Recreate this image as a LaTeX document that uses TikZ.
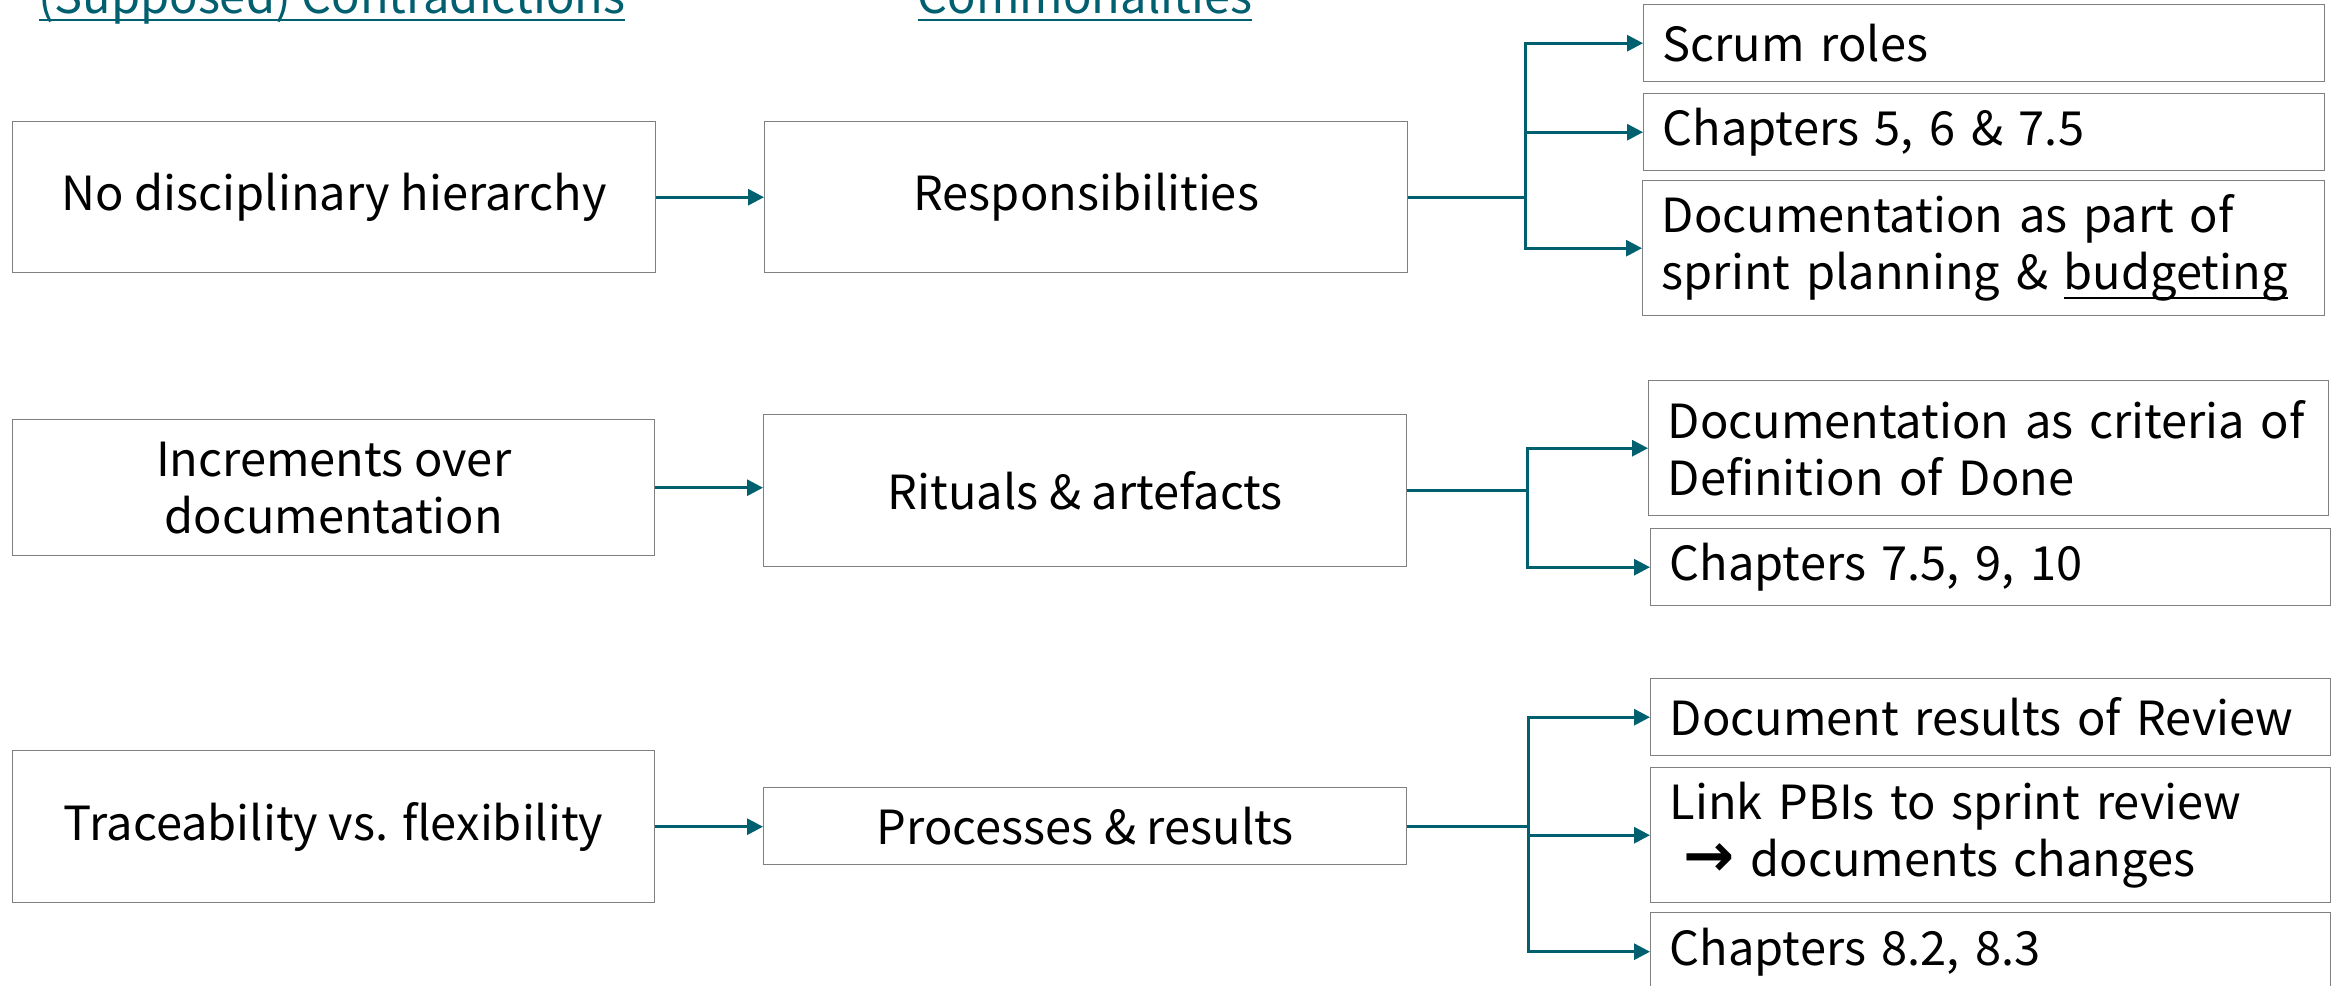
\documentclass[tikz,border=0pt]{standalone}
\usepackage{fontspec}
\setmainfont{Noto Sans CJK JP}
\newfontfamily\arrfont{DejaVu Sans}
\usetikzlibrary{arrows.meta}
\definecolor{teal2}{RGB}{0,96,112}
\definecolor{boxgray}{RGB}{128,128,128}
\newcommand\myul[1]{\setbox0\hbox{#1}\rlap{\rule[-9pt]{\wd0}{1.6pt}}\box0}
\newcommand\hdrul[1]{\setbox0\hbox{#1}\rlap{\rule[-8pt]{\wd0}{2.5pt}}\box0}
\begin{document}
\begin{tikzpicture}[x=1pt,y=-1pt,
  box/.style={draw=boxgray, line width=1.4pt, inner sep=0pt, anchor=north west,
    font=\fontsize{47}{57}\selectfont},
  cbox/.style={box, align=center},
  rbox/.style={box, align=left, inner xsep=19pt},
  hdr/.style={text=teal2, inner sep=0pt, anchor=base, font=\fontsize{47}{57}\selectfont},
  conn/.style={draw=teal2, line width=3pt},
  arr/.style={conn, -{Triangle[length=16pt,width=16pt]}}]
\clip (0,0) rectangle (2339,985);
\fill[white] (0,0) rectangle (2339,985);

% headers
\node[hdr] (h1) at (332,13) {\hdrul{(Supposed) Contradictions}};
\node[hdr] (h2) at (1085,13) {\hdrul{Commonalities}};

% left column
\node[cbox, minimum width=643pt, minimum height=151pt] (L1) at (12,121) {No disciplinary hierarchy};
\node[cbox, minimum width=642pt, minimum height=136pt] (L2) at (12,419) {Increments over\\documentation};
\node[cbox, minimum width=642pt, minimum height=152pt] (L3) at (12,750) {Traceability vs. flexibility};

% middle column
\node[cbox, minimum width=643pt, minimum height=151pt] (M1) at (764,121) {Responsibilities};
\node[cbox, minimum width=643pt, minimum height=152pt] (M2) at (763,414) {Rituals \& artefacts};
\node[cbox, minimum width=643pt, minimum height=77pt] (M3) at (763,787) {Processes \& results};

% right column
\node[rbox, text width=643pt, minimum height=77pt] (R1) at (1643,4) {Scrum roles};
\node[rbox, text width=643pt, minimum height=77pt] (R2) at (1643,93) {Chapters 5, 6 \& 7.5};
\node[rbox, text width=644pt, minimum height=135pt] (R3) at (1642,180) {Documentation as part of\\sprint planning \& \myul{budgeting}};
\node[rbox, text width=642pt, minimum height=135pt] (R4) at (1648,380) {Documentation as criteria of\\Definition of Done};
\node[rbox, text width=642pt, minimum height=77pt] (R5) at (1650,528) {Chapters 7.5, 9, 10};
\node[rbox, text width=642pt, minimum height=77pt] (R6) at (1650,678) {Document results of Review};
\node[rbox, text width=642pt, minimum height=135pt] (R7) at (1650,767) {Link PBIs to sprint review\\\hspace*{0.3em}\scalebox{1.3}{\arrfont\bfseries →} documents changes};
\node[rbox, text width=642pt, minimum height=78pt] (R8) at (1650,912) {Chapters 8.2, 8.3};

% left -> middle
\draw[arr] (L1.east) -- (L1.east -| M1.west);
\draw[arr] (L2.east) -- (L2.east -| M2.west);
\draw[arr] (L3.east) -- (L3.east -| M3.west);

% junctions
\coordinate (j1) at (1525,0 |- M1.east);
\coordinate (j2) at (1527,0 |- M2.east);
\coordinate (j3) at (1528,0 |- M3.east);
\draw[conn] (M1.east) -- (j1);
\draw[conn] (M2.east) -- (j2);
\draw[conn] (M3.east) -- (j3);

\draw[arr] (j1) |- (R1.west);
\draw[arr] (j1) |- (R2.west);
\draw[arr] (j1) |- (R3.west);
\draw[arr] (j2) |- (R4.west);
\draw[arr] (j2) |- (R5.west);
\draw[arr] (j3) |- (R6.west);
\draw[arr] (j3) |- (R7.west);
\draw[arr] (j3) |- (R8.west);
\end{tikzpicture}
\end{document}
